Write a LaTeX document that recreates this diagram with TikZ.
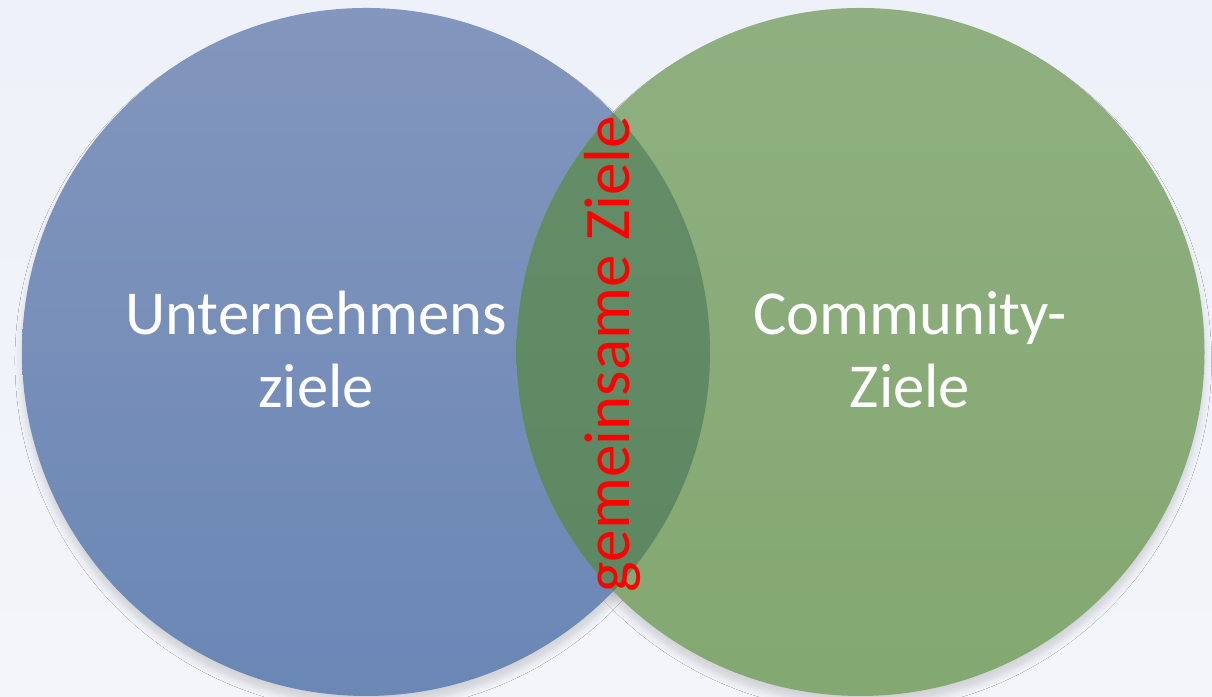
\documentclass[tikz,border=0pt]{standalone}
\usepackage{fontspec}
\setmainfont{Carlito}
\usetikzlibrary{shadows.blur}

\definecolor{bgtop}{HTML}{EEF1F9}
\definecolor{bgbot}{HTML}{F3F5FA}
\definecolor{untop}{HTML}{8396BD}
\definecolor{unbot}{HTML}{6A87B5}
\definecolor{comtop}{HTML}{8FAF80}
\definecolor{combot}{HTML}{84A871}
\definecolor{lenstop}{HTML}{668F68}
\definecolor{lensbot}{HTML}{5B8660}

\tikzset{
  goal/.style={circle, minimum size=6.88cm, inner sep=0pt},
  circshadow/.style={blur shadow={shadow xshift=0pt, shadow yshift=-2.5pt,
      shadow blur radius=2pt, shadow opacity=14}},
  goaltext/.style={text=white, align=center,
      font=\fontsize{17.8}{20.8}\selectfont},
}

\begin{document}
\begin{tikzpicture}
    \useasboundingbox (0,0) rectangle (12.12,6.97);
    \shade[top color=bgtop, bottom color=bgbot] (0,0) rectangle (12.12,6.97);

    \coordinate (cu) at (3.66,3.45);
    \coordinate (cc) at (8.605,3.45);

    % soft shadows first, so they stay under both circles
    \path[circshadow] (cu) circle (3.44);
    \path[circshadow] (cc) circle (3.44);

    \node[goal, top color=untop, bottom color=unbot] (unt) at (cu) {};
    \node[goal, top color=comtop, bottom color=combot] (com) at (cc) {};

    % overlap of the two circles
    \begin{scope}
      \clip (cu) circle (3.44);
      \shade[top color=lenstop, bottom color=lensbot] (cc) circle (3.44);
    \end{scope}

    % base anchor sits on the last line
    \node[goaltext, anchor=base] (untl) at (3.16,2.89) {Unternehmens\\ziele};
    \node[goaltext, anchor=base] (coml) at (9.10,2.89) {Community-\\Ziele};
    \node[text=red, rotate=90, anchor=base,
          font=\fontsize{18.5}{20}\selectfont] (gem) at (6.29,3.43) {gemeinsame Ziele};
  \end{tikzpicture}
\end{document}
